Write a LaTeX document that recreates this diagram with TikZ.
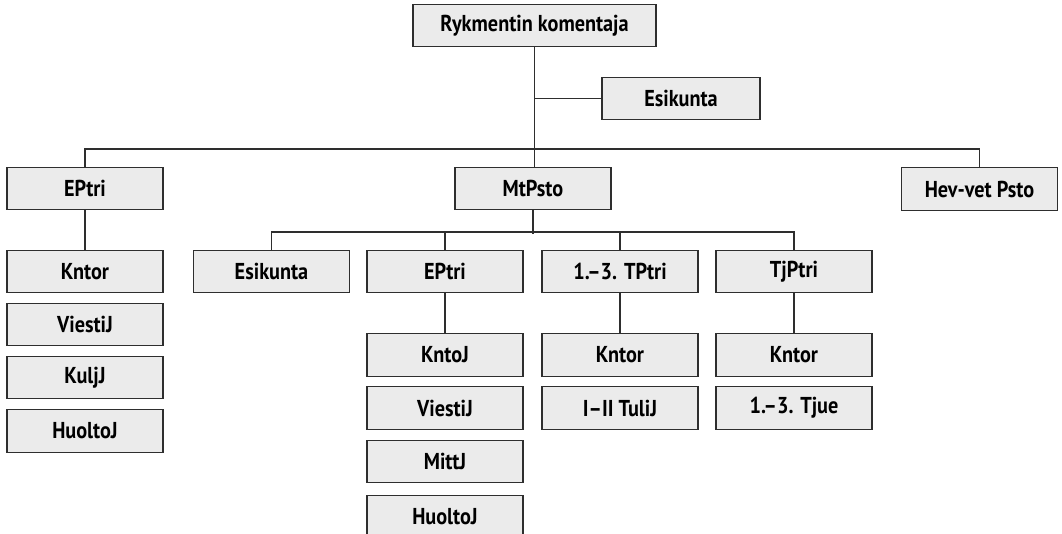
\documentclass[tikz,border=0pt]{standalone}
\usepackage{fontspec}
\newfontfamily\boxfont{PT Sans}[FakeStretch=0.88]
\definecolor{boxfill}{HTML}{EBEBEB}
\definecolor{boxline}{HTML}{2E2E2E}
\tikzset{
  unit/.style={draw=boxline, fill=boxfill, line width=1.3pt,
    minimum width=156pt, minimum height=42.5pt, inner sep=0pt,
    font=\boxfont\bfseries\fontsize{23}{23}\selectfont, text=black},
  link/.style={draw=boxline, line width=1.3pt}
}
\begin{document}
\begin{tikzpicture}[x=1pt,y=-1pt]
\useasboundingbox (0,0) rectangle (1062,534);

% command level
\node[unit, minimum width=243pt] (top) at (534.5,25.5) {Rykmentin komentaja};
\node[unit, minimum width=158pt, minimum height=41.5pt] (esk1) at (681,98.5) {Esikunta};

% battalion level
\node[unit] (eptri1) at (85,188.5) {EPtri};
\node[unit] (mtpsto) at (533,188.5) {MtPsto};
\node[unit] (hev) at (979.5,189) {Hev-vet Psto};

% left column
\node[unit] (kntor1) at (85,271.5) {Kntor};
\node[unit] (viesti1) at (85,324.5) {ViestiJ};
\node[unit] (kulj1) at (85,377.5) {KuljJ};
\node[unit] (huolto1) at (85,431) {HuoltoJ};

% MtPsto subunits
\node[unit] (esk2) at (271.5,271.5) {Esikunta};
\node[unit] (eptri2) at (445,271.5) {EPtri};
\node[unit] (tptri) at (620,271.5) {1.–3. TPtri};
\node[unit] (tjptri) at (794,271.5) {TjPtri};

% EPtri (MtPsto) column
\node[unit] (kntoj) at (445,355) {KntoJ};
\node[unit] (viesti2) at (445,408) {ViestiJ};
\node[unit] (mitt) at (445,461.5) {MittJ};
\node[unit] (huolto2) at (445,516.5) {HuoltoJ};

% TPtri column
\node[unit] (kntor2) at (620,355) {Kntor};
\node[unit] (tuli) at (620,408) {I–II TuliJ};

% TjPtri column
\node[unit] (kntor3) at (794,355) {Kntor};
\node[unit] (tjue) at (794,408) {1.–3. Tjue};

% connectors
\draw[link] (top.south) -- (top.south |- mtpsto.north);
\draw[link] (esk1.west) -- (esk1.west -| top.south);
\draw[link] (eptri1.north) -- ++(0,-17.5) -| (hev.north);

\draw[link] (mtpsto.south) -- ++(0,23.5);
\draw[link] (esk2.north) -- ++(0,-17.5) -| (tjptri.north);
\draw[link] (eptri2.north) -- ++(0,-17.5);
\draw[link] (tptri.north) -- ++(0,-17.5);

\draw[link] (eptri1.south) -- (kntor1.north);
\draw[link] (eptri2.south) -- (kntoj.north);
\draw[link] (tptri.south) -- (kntor2.north);
\draw[link] (tjptri.south) -- (kntor3.north);
\end{tikzpicture}
\end{document}
